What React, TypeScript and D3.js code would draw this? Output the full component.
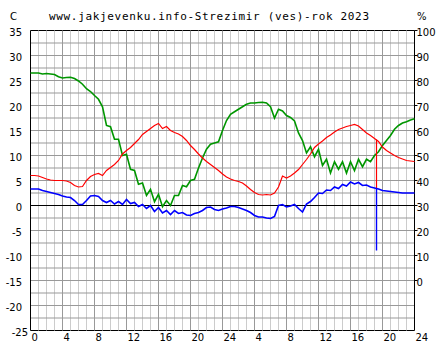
import React, { useEffect, useRef } from "react";
import * as d3 from "d3";

// half-hour readings, two days (0..48 h)
const hourTicks = [0, 4, 8, 12, 16, 20, 24, 28, 32, 36, 40, 44, 48];
const hourLabels = ["0", "4", "8", "12", "16", "20", "24", "4", "8", "12", "16", "20", "24"];
const tempTicks = [35, 30, 25, 20, 15, 10, 5, 0, -5, -10, -15, -20, -25];
const humTicks = [100, 90, 80, 70, 60, 50, 40, 30, 20, 10, 0];

const temperature = [
  6.0, 6.0, 5.9, 5.6, 5.3, 5.1, 5.0, 5.0, 5.0, 4.9,
  4.6, 4.0, 3.7, 3.8, 5.0, 5.8, 6.2, 6.4, 6.0, 7.0,
  7.6, 8.2, 9.0, 10.3, 11.0, 11.6, 12.4, 13.2, 14.2, 14.8,
  15.4, 16.0, 16.4, 15.4, 15.8, 15.0, 14.6, 14.3, 13.8, 13.0,
  12.0, 11.2, 10.3, 9.5, 8.8, 8.2, 7.6, 7.0, 6.3, 5.7,
  5.3, 5.0, 4.8, 4.5, 3.9, 3.2, 2.6, 2.2, 2.1, 2.2,
  2.1, 2.5, 3.7, 5.9, 5.5, 5.9, 6.5, 7.2, 8.2, 9.2,
  10.3, 11.6, 12.3, 12.9, 13.6, 14.1, 14.7, 15.2, 15.5, 15.8,
  16.0, 16.2, 15.9, 15.2, 14.5, 14.0, 13.4, 12.8, 11.7, 11.0,
  10.5, 10.0, 9.6, 9.3, 9.0, 8.9, 8.8,
];

const dewPoint = [
  3.3, 3.3, 3.3, 3.0, 2.8, 2.6, 2.4, 2.2, 1.9, 1.7,
  1.6, 1.0, 0.2, 0.2, 1.0, 1.9, 2.0, 1.8, 1.0, 0.6,
  1.0, 0.3, 0.8, 0.2, 1.2, 0.4, 0.6, -0.2, 0.2, -0.6,
  0.0, -1.2, -0.4, -1.5, -1.0, -1.8, -1.0, -1.6, -1.4, -1.9,
  -2.0, -1.6, -1.4, -1.0, -0.4, -0.3, -0.8, -1.0, -0.7, -0.5,
  -0.2, -0.2, -0.4, -0.7, -1.0, -1.4, -2.0, -2.3, -2.3, -2.5,
  -2.6, -2.2, 0.0, 0.2, -0.3, -0.1, 0.2, -0.6, -1.3, 0.3,
  0.8, 1.6, 2.5, 2.4, 3.1, 3.0, 3.7, 3.4, 4.2, 3.9,
  4.7, 4.3, 4.6, 4.0, 4.1, 3.7, 3.5, 3.3, 3.0, 2.9,
  2.8, 2.7, 2.6, 2.5, 2.5, 2.5, 2.5,
];

const humidity = [
  83, 83, 83, 82.6, 82.8, 82.6, 82.4, 81.5, 81, 81.2,
  81.3, 80.8, 79.8, 78.5, 76.7, 75.6, 74, 72.5, 69.5, 62,
  61.5, 56.5, 56.5, 50, 50.5, 44.5, 44, 38.5, 39, 34,
  36.5, 31.5, 34.5, 29.5, 32, 30, 34, 34, 38, 37.5,
  40, 40.5, 45, 49, 52.5, 54.5, 55, 55.5, 60, 64,
  66.5, 67.5, 68.5, 69.5, 70.5, 71, 71, 71.2, 71.3, 71,
  69.5, 65, 68.5, 67.8, 66, 65.2, 63.8, 59, 56, 51,
  53.5, 49.5, 52.5, 46, 48.5, 43, 47.5, 44.5, 47.5, 43,
  47.5, 44, 48.5, 45.5, 48.5, 47.5, 50, 51.5, 54, 56,
  58, 60.5, 62, 63, 63.5, 64.2, 64.7,
];

// short drop recorded at 43:15 on the second day
const spikeHour = 43.25;
const spikeTempHigh = 13.2;
const spikeTempLow = 3.5;
const spikeDewLow = -9;

function WeatherChart() {
  const svgRef = useRef<SVGSVGElement>(null);

  useEffect(() => {
    const w = 444;
    const h = 360;

    const svg = d3.select(svgRef.current).attr("width", w).attr("height", h);
    svg.selectAll("*").remove();

    const x = d3.scaleLinear().domain([0, 48]).range([30.5, 414.5]);
    const y = d3.scaleLinear().domain([-25, 35]).range([330.5, 30.5]);
    const yHum = d3.scaleLinear().domain([0, 100]).range([y(-15), y(35)]);

    svg.append("rect").attr("width", w).attr("height", h).attr("fill", "#fff");

    // top / bottom frame first, grid is painted over it
    svg
      .selectAll(".frame")
      .data([35, -25])
      .join("line")
      .attr("x1", x(0))
      .attr("x2", x(48))
      .attr("y1", (d) => y(d))
      .attr("y2", (d) => y(d))
      .attr("stroke", "#000");

    svg
      .selectAll(".minor")
      .data(d3.range(1, 48).filter((d) => d % 4 !== 0))
      .join("line")
      .attr("x1", (d) => x(d))
      .attr("x2", (d) => x(d))
      .attr("y1", y(35))
      .attr("y2", y(-25))
      .attr("stroke", "#cccccc");

    svg
      .selectAll(".major")
      .data(hourTicks.slice(1, -1))
      .join("line")
      .attr("x1", (d) => x(d))
      .attr("x2", (d) => x(d))
      .attr("y1", y(35))
      .attr("y2", y(-25))
      .attr("stroke", "#999999");

    svg
      .selectAll(".hgrid")
      .data(d3.range(-22.5, 35, 2.5))
      .join("line")
      .attr("x1", x(0))
      .attr("x2", x(48))
      .attr("y1", (d) => y(d))
      .attr("y2", (d) => y(d))
      .attr("stroke", "#999999");

    // side axes
    svg
      .selectAll(".side")
      .data([0, 48])
      .join("line")
      .attr("x1", (d) => x(d))
      .attr("x2", (d) => x(d))
      .attr("y1", y(35))
      .attr("y2", y(-25))
      .attr("stroke", "#000");

    svg
      .selectAll(".rtick")
      .data(humTicks)
      .join("line")
      .attr("x1", x(48))
      .attr("x2", x(48) + 3)
      .attr("y1", (d) => yHum(d))
      .attr("y2", (d) => yHum(d))
      .attr("stroke", "#000");

    svg
      .append("line")
      .attr("x1", x(0))
      .attr("x2", x(48))
      .attr("y1", y(0))
      .attr("y2", y(0))
      .attr("stroke", "#000");

    const hourOf = (_: number, i: number) => x(i / 2);

    svg
      .append("path")
      .datum(humidity)
      .attr("fill", "none")
      .attr("stroke", "#009600")
      .attr("stroke-width", 1.6)
      .attr("d", d3.line<number>().x(hourOf).y((d) => yHum(d)));

    svg
      .append("path")
      .datum(temperature)
      .attr("fill", "none")
      .attr("stroke", "#ff0000")
      .attr("stroke-width", 1.2)
      .attr("d", d3.line<number>().x(hourOf).y((d) => y(d)));

    svg
      .append("line")
      .attr("x1", x(spikeHour))
      .attr("x2", x(spikeHour))
      .attr("y1", y(spikeTempHigh))
      .attr("y2", y(spikeTempLow))
      .attr("stroke", "#ff0000")
      .attr("stroke-width", 1.2);

    svg
      .append("path")
      .datum(dewPoint)
      .attr("fill", "none")
      .attr("stroke", "#0000ff")
      .attr("stroke-width", 1.6)
      .attr("d", d3.line<number>().x(hourOf).y((d) => y(d)));

    svg
      .append("line")
      .attr("x1", x(spikeHour))
      .attr("x2", x(spikeHour))
      .attr("y1", y(spikeTempLow))
      .attr("y2", y(spikeDewLow))
      .attr("stroke", "#0000ff")
      .attr("stroke-width", 1.4);

    const font = "'DejaVu Sans', sans-serif";

    svg
      .selectAll(".tlabel")
      .data(tempTicks)
      .join("text")
      .attr("x", (d) => (d === -25 ? 28 : 22))
      .attr("y", (d) => y(d) + 5)
      .attr("text-anchor", "end")
      .style("font-family", font)
      .style("font-size", "10px")
      .text((d) => String(d));

    svg
      .selectAll(".hlabel")
      .data(humTicks)
      .join("text")
      .attr("x", x(48) + 2)
      .attr("y", (d) => yHum(d) + 5)
      .style("font-family", font)
      .style("font-size", "10px")
      .text((d) => String(d));

    svg
      .selectAll(".xlabel")
      .data(hourTicks)
      .join("text")
      .attr("x", (d) => x(d) + 1)
      .attr("y", 341)
      .style("font-family", font)
      .style("font-size", "10px")
      .text((d, i) => hourLabels[i]);

    svg
      .append("text")
      .attr("x", 10)
      .attr("y", 20)
      .style("font-family", font)
      .style("font-size", "10px")
      .text("C");

    svg
      .append("text")
      .attr("x", 417)
      .attr("y", 20)
      .style("font-family", font)
      .style("font-size", "10px")
      .text("%");

    svg
      .append("text")
      .attr("x", 49)
      .attr("y", 20)
      .attr("textLength", 320)
      .attr("lengthAdjust", "spacing")
      .style("font-family", "'DejaVu Sans Mono', monospace")
      .style("font-size", "11px")
      .text("www.jakjevenku.info-Strezimir (ves)-rok 2023");
  }, []);

  return (
    <div style={{ position: "absolute", left: 0, top: 0 }}>
      <svg ref={svgRef} style={{ display: "block" }}></svg>
    </div>
  );
}

export default function App() {
  return <WeatherChart />;
}
